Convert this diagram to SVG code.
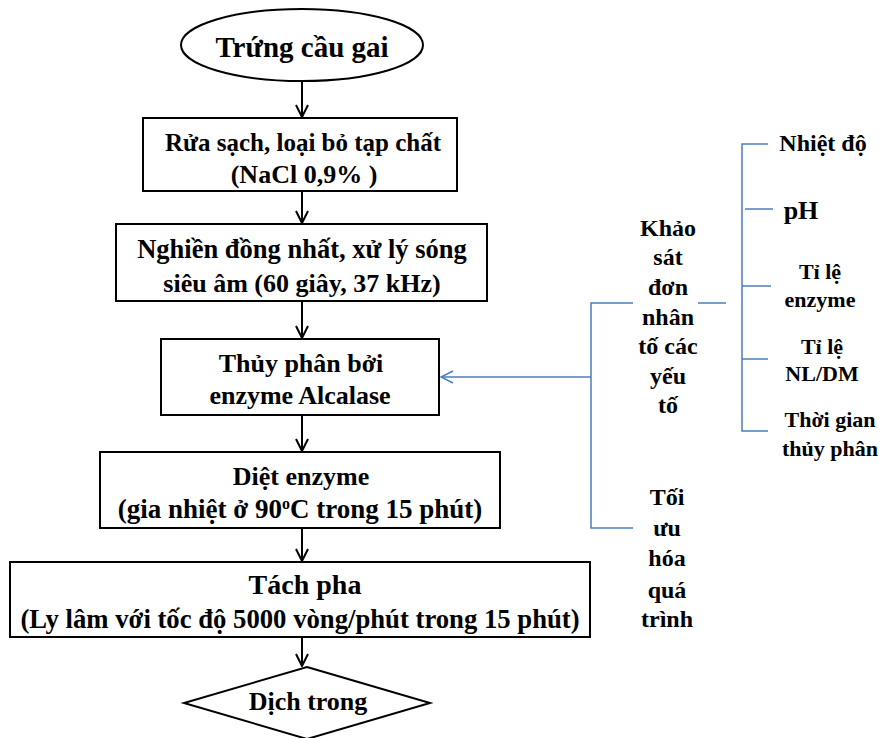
<svg xmlns="http://www.w3.org/2000/svg" width="886" height="738" viewBox="0 0 886 738">
<defs>
<style>
.t{font-family:'Liberation Serif','Times New Roman',Tinos,'DejaVu Serif',serif;font-weight:bold;font-size:26px;fill:#000;text-anchor:middle}
.r{font-size:24px}
.s{font-size:22px}
.b{fill:#fff;stroke:#000;stroke-width:2}
.c{fill:none;stroke:#000;stroke-width:2}
.bl{fill:none;stroke:#4a7ebb;stroke-width:1.5}
</style>
<marker id="ah" markerWidth="14" markerHeight="14" viewBox="0 0 14 14" refX="13" refY="7" orient="auto" markerUnits="userSpaceOnUse">
<path d="M1,1 L13,7 L1,13" fill="none" stroke="#000" stroke-width="2"/>
</marker>
<marker id="ahb" markerWidth="14" markerHeight="14" viewBox="0 0 14 14" refX="13" refY="7" orient="auto" markerUnits="userSpaceOnUse">
<path d="M1,1 L13,7 L1,13" fill="none" stroke="#4a7ebb" stroke-width="1.5"/>
</marker>
</defs>
<rect width="886" height="738" fill="#fff"/>
<g id="connectors">
<line class="c" x1="302" y1="81" x2="302" y2="117" marker-end="url(#ah)"/>
<line class="c" x1="302" y1="191" x2="302" y2="223" marker-end="url(#ah)"/>
<line class="c" x1="302" y1="301" x2="302" y2="338" marker-end="url(#ah)"/>
<line class="c" x1="302" y1="415" x2="302" y2="451" marker-end="url(#ah)"/>
<line class="c" x1="302" y1="528" x2="302" y2="561" marker-end="url(#ah)"/>
<line class="c" x1="302" y1="637" x2="302" y2="666" marker-end="url(#ah)"/>
<path class="bl" d="M633,303 H591 V528 H633"/>
<line class="bl" x1="591" y1="377" x2="441" y2="377" marker-end="url(#ahb)"/>
<line class="bl" x1="698" y1="303" x2="726" y2="303"/>
<path class="bl" d="M768,144 H742 V431 H768"/>
<line class="bl" x1="745" y1="209" x2="773" y2="209"/>
<line class="bl" x1="742" y1="286" x2="771" y2="286"/>
<line class="bl" x1="742" y1="359" x2="768" y2="359"/>
</g>
<g id="n-start">
<ellipse class="b" cx="302" cy="45" rx="121" ry="36"/>
<text class="t" x="302" y="57" style="font-size:29px">Trứng cầu gai</text>
</g>
<g id="n-rua">
<rect class="b" x="143" y="118" width="314" height="73"/>
<text class="t" x="303" y="151" style="font-size:25px">Rửa sạch, loại bỏ tạp chất</text>
<text class="t" x="304" y="183">(NaCl 0,9% )</text>
</g>
<g id="n-nghien">
<rect class="b" x="116" y="224" width="371" height="77"/>
<text class="t" x="302" y="258" style="font-size:26.5px">Nghiền đồng nhất, xử lý sóng</text>
<text class="t" x="302" y="292">siêu âm (60 giây, 37 kHz)</text>
</g>
<g id="n-thuyphan">
<rect class="b" x="161" y="339" width="278" height="76"/>
<text class="t" x="301" y="372">Thủy phân bởi</text>
<text class="t" x="300" y="404">enzyme Alcalase</text>
</g>
<g id="n-diet">
<rect class="b" x="100" y="452" width="400" height="76"/>
<text class="t" x="301" y="485">Diệt enzyme</text>
<text class="t" x="300" y="518" style="font-size:27px">(gia nhiệt ở 90<tspan font-size="16" dy="-9">o</tspan><tspan dy="9">C trong 15 phút)</tspan></text>
</g>
<g id="n-tach">
<rect class="b" x="10" y="562" width="580" height="75"/>
<text class="t" x="305" y="594" style="font-size:28px">Tách pha</text>
<text class="t" x="300" y="628" style="font-size:26.7px">(Ly lâm với tốc độ 5000 vòng/phút trong 15 phút)</text>
</g>
<g id="n-dich">
<polygon class="b" points="307,667 430,703 307,739 184,703"/>
<text class="t" x="308" y="710">Dịch trong</text>
</g>
<g id="n-khaosat">
<text class="t r" x="668" y="236">Khảo</text>
<text class="t r" x="668" y="265">sát</text>
<text class="t r" x="668" y="295">đơn</text>
<text class="t r" x="668" y="325">nhân</text>
<text class="t r" x="668" y="354">tố các</text>
<text class="t r" x="668" y="384">yếu</text>
<text class="t r" x="668" y="413">tố</text>
</g>
<g id="n-toiuu">
<text class="t r" x="667" y="505">Tối</text>
<text class="t r" x="667" y="536">ưu</text>
<text class="t r" x="667" y="566">hóa</text>
<text class="t r" x="667" y="598">quá</text>
<text class="t r" x="667" y="627">trình</text>
</g>
<g id="n-nhietdo">
<text class="t r" x="823" y="151">Nhiệt độ</text>
</g>
<g id="n-ph">
<text class="t" x="801" y="219">pH</text>
</g>
<g id="n-tile-enzyme">
<text class="t s" x="820" y="279">Tỉ lệ</text>
<text class="t s" x="820" y="307">enzyme</text>
</g>
<g id="n-tile-nl">
<text class="t s" x="822" y="354">Tỉ lệ</text>
<text class="t s" x="822" y="381">NL/DM</text>
</g>
<g id="n-thoigian">
<text class="t s" x="830" y="427">Thời gian</text>
<text class="t s" x="830" y="456">thủy phân</text>
</g>
</svg>
